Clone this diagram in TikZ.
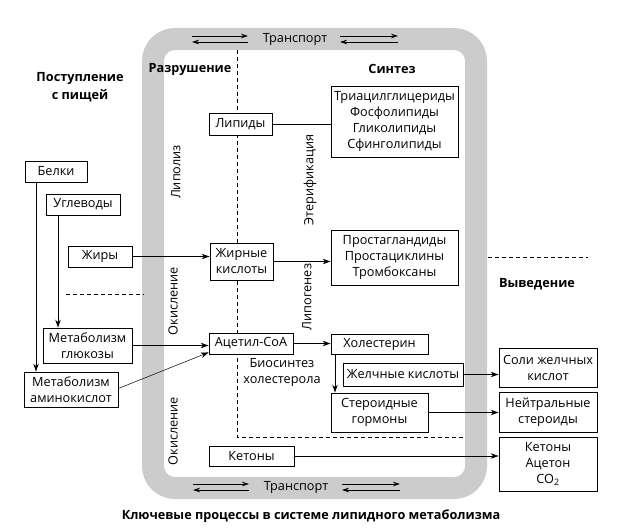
\documentclass[tikz,border=0pt]{standalone}
\usepackage{fontspec}
\setmainfont{Open Sans}
\usetikzlibrary{arrows.meta}
\begin{document}
\begin{tikzpicture}[x=1pt,y=-1pt,
  every node/.style={font=\fontsize{12.7}{16}\selectfont},
  box/.style={draw, line width=0.8pt, fill=white, align=center, inner sep=0pt},
  arr/.style={line width=0.8pt, -{Stealth[length=8pt,width=5.5pt]}},
  plain/.style={line width=0.8pt},
  thin arr/.style={line width=0.5pt, -{Stealth[length=8pt,width=5.5pt]}},
  tarr/.style={line width=0.7pt, -{Stealth[length=7pt,width=4.5pt]}},
  dsh/.style={line width=0.7pt, dash pattern=on 4pt off 3pt},
  head/.style={font=\fontsize{12.7}{18}\selectfont\bfseries, align=center},
  rot/.style={rotate=90}
]
\useasboundingbox (0,0) rectangle (623,529);
% frame
\draw[line width=22pt, color=black!20, rounded corners=22pt] (153,39) rectangle (476,488);
% dashed separators
\coordinate (d1) at (237,50);
\coordinate (d2) at (237,437);
\coordinate (d3) at (465,437);
\draw[dsh] (d1) -- (d2) -- (d3);
\coordinate (l1) at (66,294); \coordinate (l2) at (144,294);
\draw[dsh] (l1) -- (l2);
\coordinate (r1) at (488,257); \coordinate (r2) at (588,257);
\draw[dsh] (r1) -- (r2);
% transport arrows
\foreach \xa/\xb/\ya/\yb in {192/248/36/42, 340/398/36/42, 193/249/484/490, 342/400/484/490}{
  \coordinate (ta) at (\xa,\ya); \coordinate (tb) at (\xb,\ya);
  \coordinate (tc) at (\xb,\yb); \coordinate (td) at (\xa,\yb);
  \draw[tarr] (ta) -- (tb);
  \draw[tarr] (tc) -- (td);
}
\node (tr1) at (295,39) {Транспорт};
\node (tr2) at (296,487) {Транспорт};
% headings
\node[head] (h1) at (190,69) {Разрушение};
\node[head] (h2) at (392,69) {Синтез};
\node[head] (h3) at (80,87) {Поступление\\с пищей};
\node[head] (h4) at (537,284) {Выведение};
\node[head] (h5) at (311,516) {Ключевые процессы в системе липидного метаболизма};
% rotated labels
\node[rot] (lb1) at (176,172) {Липолиз};
\node[rot] (lb2) at (173,301) {Окисление};
\node[rot] (lb3) at (173,431) {Окисление};
\node[rot] (lb4) at (310,180) {Этерификация};
\node[rot] (lb5) at (307,297) {Липогенез};
\node[align=center] (bio) at (282,372) {Биосинтез\\холестерола};
% boxes
\node[box, minimum width=63pt, minimum height=22pt] (lip) at (240.5,124) {Липиды};
\node[box, minimum width=63pt, minimum height=37pt] (fa) at (241.5,261.5) {Жирные\\кислоты};
\node[box, minimum width=84pt, minimum height=21pt] (acoa) at (251,343.5) {Ацетил-CoA};
\node[box, minimum width=85pt, minimum height=20pt] (ket) at (251.5,456) {Кетоны};
\node[box, minimum width=127pt, minimum height=71pt] (tag) at (394.5,121.5) {Триацилглицериды\\Фосфолипиды\\Гликолипиды\\Сфинголипиды};
\node[box, minimum width=127pt, minimum height=55pt] (pg) at (394.5,257.5) {Простагландиды\\Простациклины\\Тромбоксаны};
\node[box, minimum width=97pt, minimum height=20pt] (chol) at (379.5,344) {Холестерин};
\node[box, minimum width=120pt, minimum height=23pt] (bile) at (403,374.5) {Желчные кислоты};
\node[box, minimum width=97pt, minimum height=39pt] (ster) at (379.5,412.5) {Стероидные\\гормоны};
\node[box, minimum width=98pt, minimum height=39pt] (salts) at (548,367.5) {Соли желчных\\кислот};
\node[box, minimum width=98pt, minimum height=40pt] (neut) at (548,412) {Нейтральные\\стероиды};
\node[box, minimum width=98pt, minimum height=54pt] (kac) at (548,464) {Кетоны\\Ацетон\\CO\textsubscript{2}};
\node[box, minimum width=62pt, minimum height=21pt] (bel) at (56,171.5) {Белки};
\node[box, minimum width=74pt, minimum height=21pt] (ugl) at (83,204.5) {Углеводы};
\node[box, minimum width=64pt, minimum height=21pt] (zhir) at (100,256.5) {Жиры};
\node[box, minimum width=89pt, minimum height=35pt] (mglu) at (87.5,345.5) {Метаболизм\\глюкозы};
\node[box, minimum width=94pt, minimum height=35pt] (mam) at (71,389.5) {Метаболизм\\аминокислот};
% connectors
\coordinate (b1) at ([xshift=-20pt]bel.south);
\draw[arr] (b1) -- (b1 |- mam.north);
\coordinate (u1) at ([xshift=-25pt]ugl.south);
\draw[arr] (u1) -- (u1 |- mglu.north);
\draw[arr] (zhir.east) -- (zhir.east -| fa.west);
\draw[arr] (mglu.east) -- (mglu.east -| acoa.west);
\draw[thin arr] ([yshift=1pt]mam.east) -- ([yshift=2pt]acoa.south west);
\draw[plain] (lip.east) -- (lip.east -| tag.west);
\draw[arr] (fa.east) -- (fa.east -| pg.west);
\draw[arr] (acoa.east) -- (acoa.east -| chol.west);
\coordinate (c1) at ([xshift=-44.5pt]chol.south);
\draw[arr] (c1) -- (c1 |- ster.north);
\draw[arr] (bile.east) -- (bile.east -| salts.west);
\draw[arr] (ster.east) -- (ster.east -| neut.west);
\draw[arr] (ket.east) -- (ket.east -| kac.west);
\end{tikzpicture}
\end{document}
